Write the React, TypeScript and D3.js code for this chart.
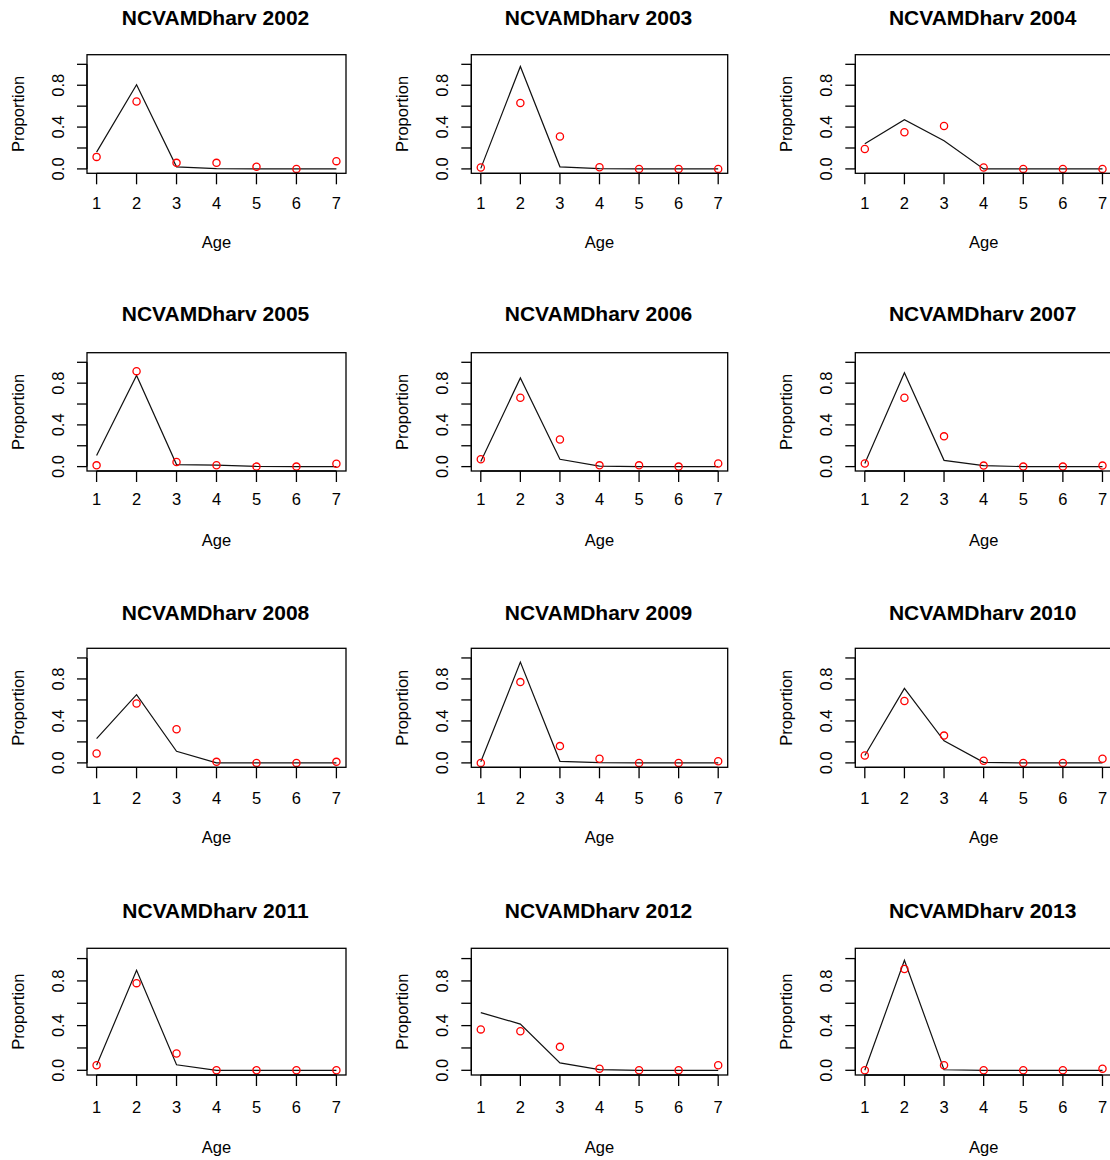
import * as d3 from "d3";

// panels, read left-to-right, top-to-bottom
const years = [2002, 2003, 2004, 2005, 2006, 2007, 2008, 2009, 2010, 2011, 2012, 2013];
const ages = [1, 2, 3, 4, 5, 6, 7];

// model fit (black line)
const fitted = [
  [0.16, 0.805, 0.02, 0.003, 0, 0, 0],
  [0.005, 0.98, 0.02, 0.003, 0, 0, 0],
  [0.24, 0.47, 0.27, 0.0, 0, 0, 0],
  [0.107, 0.874, 0.02, 0.015, 0.002, 0, 0],
  [0.05, 0.85, 0.07, 0.005, 0, 0, 0],
  [0.03, 0.9, 0.06, 0.01, 0, 0, 0],
  [0.232, 0.65, 0.11, 0.0, 0, 0, 0],
  [0.01, 0.96, 0.015, 0.002, 0, 0, 0],
  [0.07, 0.71, 0.21, 0.005, 0, 0, 0],
  [0.045, 0.895, 0.05, 0.0, 0, 0, 0],
  [0.516, 0.414, 0.066, 0.006, 0, 0, 0],
  [0.0, 0.985, 0.005, 0, 0, 0, 0]
];

// observed proportions (red circles)
const observed = [
  [0.115, 0.645, 0.058, 0.058, 0.02, 0.0, 0.074],
  [0.013, 0.63, 0.31, 0.016, 0, 0, 0],
  [0.19, 0.35, 0.41, 0.013, 0, 0, 0],
  [0.012, 0.915, 0.044, 0.013, 0, 0, 0.028],
  [0.07, 0.66, 0.26, 0.012, 0.012, 0, 0.03],
  [0.03, 0.66, 0.29, 0.01, 0, 0, 0.01],
  [0.09, 0.566, 0.32, 0.01, 0, 0, 0.01],
  [0.0, 0.77, 0.16, 0.04, 0, 0, 0.015],
  [0.07, 0.59, 0.26, 0.02, 0, 0, 0.04],
  [0.045, 0.78, 0.15, 0, 0, 0, 0],
  [0.366, 0.35, 0.21, 0.015, 0, 0, 0.045],
  [0, 0.907, 0.045, 0, 0, 0, 0.015]
];

const yTicks = [0, 0.2, 0.4, 0.6, 0.8, 1.0];
const yTickLabels = [0, 0.4, 0.8];

// page layout (pixels)
const colLefts = [87, 471.3, 855.3];
const colRights = [346, 727.7, 1112];
const rowTops = [54.7, 352.7, 648.3, 948.3];
const rowBottoms = [173.3, 471, 767.3, 1075];
const titleYs = [17, 313.5, 612, 910];
const tickLabelYs = [203, 499, 798, 1107];
const ageYs = [242, 540, 836.5, 1147];

const font = "'Liberation Sans', Arial, sans-serif";

function Panel({ i }: { i: number }) {
  const col = i % 3;
  const row = Math.floor(i / 3);
  const left = colLefts[col];
  const right = colRights[col];
  const top = rowTops[row];
  const bottom = rowBottoms[row];

  const x = d3.scaleLinear().domain([0.76, 7.24]).range([left, right]);
  const y = d3.scaleLinear().domain([-0.042, 1.092]).range([bottom, top]);

  const line = d3
    .line<number>()
    .x((_, k) => x(ages[k]))
    .y((d) => y(d));

  const cx = (left + right) / 2;
  const cy = (top + bottom) / 2;
  const ylabX = left - 69.5;
  const ytickX = left - 29.5;

  return (
    <g>
      <text
        x={cx - 1}
        y={titleYs[row]}
        textAnchor="middle"
        dominantBaseline="central"
        fontWeight="bold"
        fontSize={21}
      >
        {`NCVAMDharv ${years[i]}`}
      </text>

      <path d={line(fitted[i]) || ""} fill="none" stroke="#111" strokeWidth={1.2} />
      {observed[i].map((v, k) => (
        <circle key={k} cx={x(ages[k])} cy={y(v)} r={3.6} fill="none" stroke="#ff0000" strokeWidth={1.3} />
      ))}

      <rect x={left} y={top} width={right - left} height={bottom - top} fill="none" stroke="#000" strokeWidth={1.3} />

      {/* x axis */}
      <line x1={x(1)} x2={x(7)} y1={bottom} y2={bottom} stroke="#000" strokeWidth={1.3} />
      {ages.map((a) => (
        <g key={a}>
          <line x1={x(a)} x2={x(a)} y1={bottom} y2={bottom + 11} stroke="#000" strokeWidth={1.3} />
          <text x={x(a)} y={tickLabelYs[row]} textAnchor="middle" dominantBaseline="central" fontSize={16.5}>
            {a}
          </text>
        </g>
      ))}
      <text x={cx} y={ageYs[row]} textAnchor="middle" dominantBaseline="central" fontSize={16.5}>
        Age
      </text>

      {/* y axis */}
      <line x1={left} x2={left} y1={y(0)} y2={y(1)} stroke="#000" strokeWidth={1.3} />
      {yTicks.map((t) => (
        <line key={t} x1={left - 10} x2={left} y1={y(t)} y2={y(t)} stroke="#000" strokeWidth={1.3} />
      ))}
      {yTickLabels.map((t) => (
        <text
          key={t}
          transform={`translate(${ytickX},${y(t)}) rotate(-90)`}
          textAnchor="middle"
          dominantBaseline="central"
          fontSize={16.5}
        >
          {d3.format(".1f")(t)}
        </text>
      ))}
      <text
        transform={`translate(${ylabX},${cy}) rotate(-90)`}
        textAnchor="middle"
        dominantBaseline="central"
        fontSize={16.5}
      >
        Proportion
      </text>
    </g>
  );
}

export default function App() {
  return (
    <>
      <style>{`body{margin:0;background:#fff}`}</style>
      <svg width={1110} height={1160} style={{ display: "block", fontFamily: font }} fill="#000">
        <rect width={1110} height={1160} fill="#fff" />
        {years.map((_, i) => (
          <Panel key={i} i={i} />
        ))}
      </svg>
    </>
  );
}
